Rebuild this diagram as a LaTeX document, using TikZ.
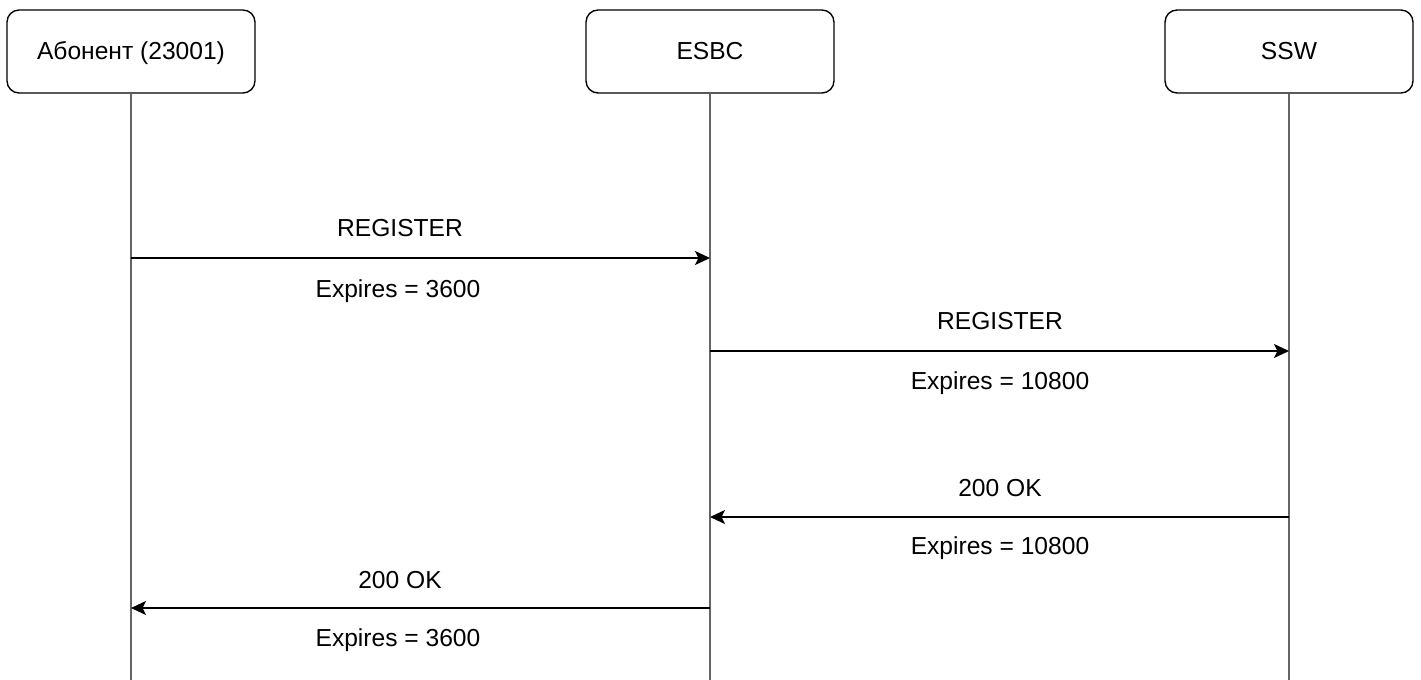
\documentclass[tikz,border=0pt]{standalone}
\usepackage{fontspec}
\setmainfont{Liberation Sans}
\usetikzlibrary{arrows.meta}

\tikzset{
    party/.style={draw, thick, rounded corners=0.24cm, minimum width=4.96cm,
        minimum height=1.66cm, text height=11pt, text depth=2pt,
        font=\fontsize{14}{16}\selectfont},
    lifeline/.style={draw=black!60, line width=1.3pt},
    msg/.style={line width=0.9pt, -{Stealth[length=0.3cm, width=0.28cm, inset=0.07cm]}},
    lbl/.style={font=\fontsize{14}{16}\selectfont}
}

\begin{document}
\begin{tikzpicture}[x=0.02cm, y=-0.02cm]
    \useasboundingbox (0,0) rectangle (1421,680);
    % Below nodes are the parties.
        \node[party] (abn) at (131,51.5) {Абонент (23001)};
        \node[party] (esbc) at (710,51.5) {ESBC};
        \node[party] (ssw) at (1289,51.5) {SSW};
    % Lifelines.
        \coordinate (abnEnd) at (131,682);
        \coordinate (esbcEnd) at (710,682);
        \coordinate (sswEnd) at (1289,682);
        \draw[lifeline] (abn.south) -- (abnEnd);
        \draw[lifeline] (esbc.south) -- (esbcEnd);
        \draw[lifeline] (ssw.south) -- (sswEnd);
    % Message ends on the lifelines.
        \coordinate (m1a) at (131,258);  \coordinate (m1b) at (710,258);
        \coordinate (m2a) at (710,351);  \coordinate (m2b) at (1289,351);
        \coordinate (m3a) at (1289,517); \coordinate (m3b) at (710,517);
        \coordinate (m4a) at (710,608);  \coordinate (m4b) at (131,608);
    % This draws the messages.
        \draw[msg] (m1a) -- (m1b);
        \draw[msg] (m2a) -- (m2b);
        \draw[msg] (m3a) -- (m3b);
        \draw[msg] (m4a) -- (m4b);
    % Below nodes are the labels.
        \node[lbl] (r1) at (400,228) {REGISTER};
        \node[lbl] (e1) at (398,291) {Expires = 3600};
        \node[lbl] (r2) at (1000,321) {REGISTER};
        \node[lbl] (e2) at (1000,383) {Expires = 10800};
        \node[lbl] (ok1) at (1000,488) {200 OK};
        \node[lbl] (e3) at (1000,548) {Expires = 10800};
        \node[lbl] (ok2) at (400,580) {200 OK};
        \node[lbl] (e4) at (398,640) {Expires = 3600};
\end{tikzpicture}
\end{document}
